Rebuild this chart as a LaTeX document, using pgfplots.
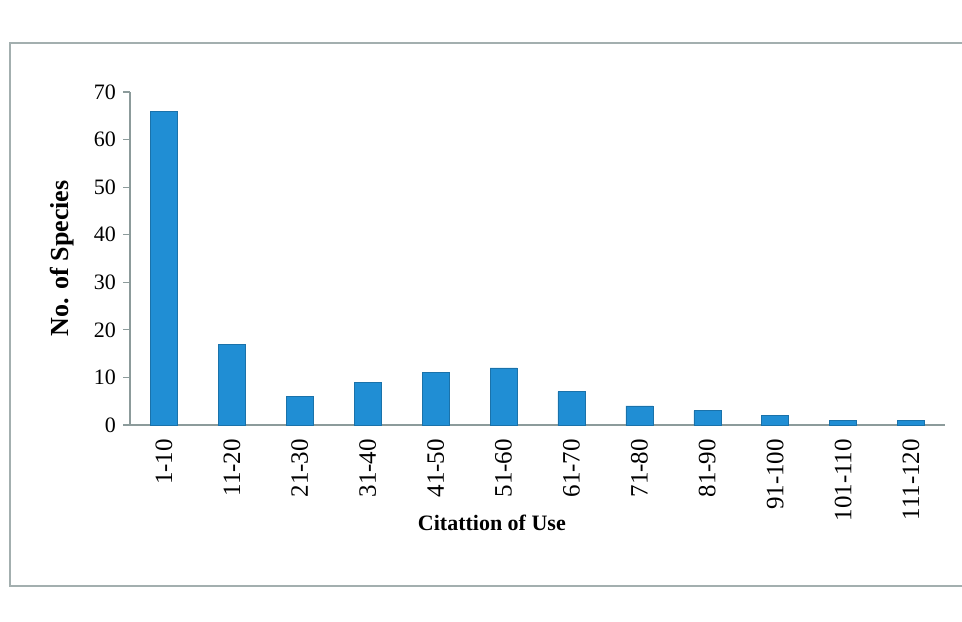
\documentclass[border=0pt]{standalone}
\usepackage{fontspec}
\setmainfont{Liberation Serif}
\usepackage{pgfplots}
\pgfplotsset{compat=1.18}
\definecolor{barblue}{RGB}{32,142,212}
\definecolor{axgray}{RGB}{140,155,155}
\begin{document}
\begin{tikzpicture}
\path[use as bounding box] (0,0) rectangle (481pt,310.5pt);
\draw[axgray!80, line width=0.6pt] (481pt,289pt) -- (5pt,289pt) -- (5pt,17.5pt) -- (481pt,17.5pt);
\begin{axis}[
  at={(65pt,98pt)}, anchor=south west,
  width=407.5pt, height=166.5pt, scale only axis,
  xmin=-0.5, xmax=11.5, ymin=0, ymax=70,
  axis x line*=bottom, axis y line*=left,
  axis line style={axgray, line width=0.6pt},
  ytick={0,10,...,70},
  xtick={0,...,11},
  xticklabels={1-10,11-20,21-30,31-40,41-50,51-60,61-70,71-80,81-90,91-100,101-110,111-120},
  minor xtick={-0.5,0.5,...,11.5},
  x tick style={draw=none},
  minor x tick style={axgray, line width=0.6pt},
  y tick style={axgray, line width=0.6pt},
  major tick length=3.5pt, minor tick length=3.5pt,
  tick align=outside,
  xticklabel style={rotate=90, anchor=east, font=\fontsize{12.5}{14}\selectfont},
  yticklabel style={font=\fontsize{11}{13}\selectfont},
  /pgf/number format/assume math mode=true,
  xlabel={\textbf{Citattion of Use}},
  xlabel style={at={(axis description cs:0.444,-0.294)}, anchor=center, font=\fontsize{11}{13}\selectfont},
  ylabel={\textbf{No. of Species}},
  ylabel style={at={(axis description cs:-0.083,0.5)}, anchor=center, rotate=0, font=\fontsize{13}{15}\selectfont},
  ybar, bar width=13.5pt,
]
\addplot[fill=barblue, draw=barblue!80!black, line width=0.3pt] coordinates {
(0,66) (1,17) (2,6) (3,9) (4,11) (5,12) (6,7) (7,4) (8,3) (9,2) (10,1) (11,1)
};
\end{axis}
\end{tikzpicture}
\end{document}
